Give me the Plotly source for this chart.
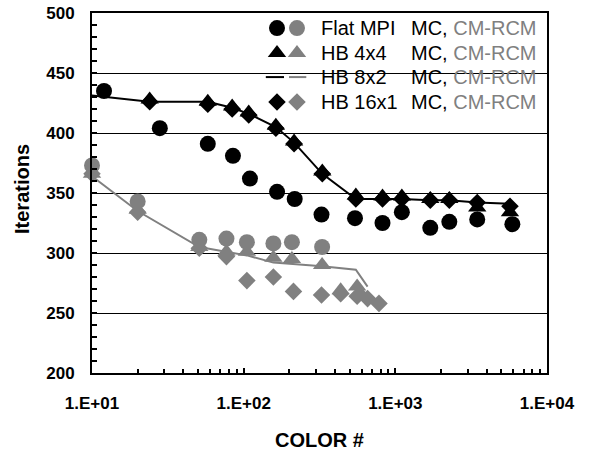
import plotly.graph_objects as go

# ---------------- data ----------------
flat_mc_x = [12, 28, 58, 85, 110, 166, 217, 326, 542, 823, 1104, 1700, 2270, 3467, 5910]
flat_mc_y = [435, 404, 391, 381, 362, 351, 345, 332, 329, 325, 334, 321, 326, 328, 324]

flat_cm_x = [10, 20, 51, 77, 105, 157, 208, 329]
flat_cm_y = [373, 343, 311, 312, 309, 308, 309, 305]

hb44_mc_x = [24, 58, 84, 108, 163, 215, 330, 549, 823, 1104, 1700, 2270, 3467, 5700]
hb44_mc_y = [428, 426, 422, 417, 406, 393, 368, 348, 347, 347, 345, 345, 338, 334]

hb44_cm_x = [10, 20, 51, 77, 105, 157, 208, 329, 436, 560, 600]
hb44_cm_y = [366, 336, 305, 301, 301, 296, 295, 290, 269, 272, 265]

hb82_mc_x = [8.7, 24, 58, 84, 108, 163, 215, 330, 549, 823, 1104, 1700, 2270, 3467, 5700]
hb82_mc_y = [432, 426, 426, 421, 416, 405, 392, 366, 345, 345, 345, 344, 344, 342, 341]

hb82_cm_x = [10, 20, 51, 77, 105, 157, 208, 329, 549, 656]
hb82_cm_y = [364, 335, 305, 301, 298, 292, 291, 289, 286, 272]

hb161_mc_x = [24, 58, 84, 108, 163, 215, 330, 549, 823, 1104, 1700, 2270, 3467, 5700]
hb161_mc_y = [426, 424, 420, 415, 404, 391, 366, 345, 345, 345, 344, 344, 342, 339]

hb161_cm_x = [10, 20, 51, 77, 105, 157, 213, 326, 436, 560, 656, 780]
hb161_cm_y = [366, 334, 304, 297, 277, 280, 268, 265, 266, 264, 262, 258]

legend_names = ["Flat MPI", "HB 4x4", "HB 8x2", "HB 16x1"]
x_tick_vals = [10, 100, 1000, 10000]
x_tick_text = ["1.E+01", "1.E+02", "1.E+03", "1.E+04"]
x_title = "COLOR #"
y_title = "Iterations"

# ---------------- style ----------------
BLACK = "#000000"
GRAY = "#808080"
FONT = "Liberation Sans, Arial, sans-serif"
CIRCLE, TRI, DIA = 16, 16, 13.5

fig = go.Figure()


def markers(x, y, symbol, size, color, name):
    fig.add_trace(go.Scatter(x=x, y=y, mode="markers", name=name, showlegend=False,
                             marker=dict(symbol=symbol, size=size, color=color,
                                         line=dict(width=0)), cliponaxis=False))


def line(x, y, color, name):
    fig.add_trace(go.Scatter(x=x, y=y, mode="lines", name=name, showlegend=False,
                             line=dict(color=color, width=2)))


# black (MC) series
markers(flat_mc_x, flat_mc_y, "circle", CIRCLE, BLACK, "Flat MPI MC")
markers(hb161_mc_x, hb161_mc_y, "diamond", DIA, BLACK, "HB 16x1 MC")
markers(hb44_mc_x, hb44_mc_y, "triangle-up", TRI, BLACK, "HB 4x4 MC")
line(hb82_mc_x, hb82_mc_y, BLACK, "HB 8x2 MC")
# gray (CM-RCM) series
markers(hb161_cm_x, hb161_cm_y, "diamond", DIA, GRAY, "HB 16x1 CM-RCM")
markers(hb44_cm_x, hb44_cm_y, "triangle-up", TRI, GRAY, "HB 4x4 CM-RCM")
line(hb82_cm_x, hb82_cm_y, GRAY, "HB 8x2 CM-RCM")
markers(flat_cm_x, flat_cm_y, "circle", CIRCLE, GRAY, "Flat MPI CM-RCM")

# ---------------- custom legend (overlay axes in 0..1 units) ----------------
row_y = [0.958, 0.889, 0.822, 0.753]
sym_x_black, sym_x_gray = 0.4066, 0.4505
symbols = ["circle", "triangle-up", None, "diamond"]
sizes = [CIRCLE, TRI, 0, DIA]
for i, (sym, sz) in enumerate(zip(symbols, sizes)):
    if sym is None:
        fig.add_trace(go.Scatter(x=[0.382, 0.422], y=[row_y[i]] * 2, mode="lines",
                                 xaxis="x2", yaxis="y2", showlegend=False,
                                 line=dict(color=BLACK, width=2), cliponaxis=False))
        fig.add_trace(go.Scatter(x=[0.433, 0.471], y=[row_y[i]] * 2, mode="lines",
                                 xaxis="x2", yaxis="y2", showlegend=False,
                                 line=dict(color=GRAY, width=2), cliponaxis=False))
    else:
        fig.add_trace(go.Scatter(x=[sym_x_black, sym_x_gray], y=[row_y[i]] * 2, mode="markers",
                                 xaxis="x2", yaxis="y2", showlegend=False, cliponaxis=False,
                                 marker=dict(symbol=sym, size=sz, color=[BLACK, GRAY],
                                             line=dict(width=0))))

annotations = []
for i, nm in enumerate(legend_names):
    annotations.append(dict(xref="paper", yref="paper", x=0.499, y=row_y[i], text=nm,
                            showarrow=False, xanchor="left", yanchor="middle",
                            font=dict(family=FONT, size=20, color=BLACK)))
    annotations.append(dict(xref="paper", yref="paper", x=0.697, y=row_y[i],
                            text="MC, <span style='color:%s'>CM-RCM</span>" % GRAY,
                            showarrow=False, xanchor="left", yanchor="middle",
                            font=dict(family=FONT, size=20, color=BLACK)))

# axis titles
annotations.append(dict(xref="paper", yref="paper", x=0.5, y=-0.186, text=x_title,
                        showarrow=False, xanchor="center", yanchor="middle",
                        font=dict(family=FONT, size=20, color=BLACK, weight="bold")))
annotations.append(dict(xref="paper", yref="paper", x=-0.154, y=0.511, text=y_title,
                        showarrow=False, xanchor="center", yanchor="middle", textangle=-90,
                        font=dict(family=FONT, size=20, color=BLACK, weight="bold")))

minor_x = [m * 10 ** k for k in range(1, 4) for m in range(2, 10)]

fig.update_layout(
    width=593, height=450,
    margin=dict(l=92, r=46, t=13, b=77, autoexpand=False),
    paper_bgcolor="white", plot_bgcolor="white",
    font=dict(family=FONT, color=BLACK),
    annotations=annotations,
    xaxis=dict(
        type="log", range=[1, 4], automargin=False,
        tickvals=x_tick_vals, ticktext=x_tick_text,
        ticks="inside", ticklen=5, tickwidth=1.5, tickcolor=BLACK,
        minor=dict(tickvals=minor_x, ticks="inside", ticklen=4, tickwidth=1.5,
                   tickcolor=BLACK, showgrid=False),
        showgrid=False, zeroline=False,
        showline=True, linecolor=BLACK, linewidth=2, mirror=True,
        tickfont=dict(family=FONT, size=17, color=BLACK, weight="bold"),
        ticklabelstandoff=14,
    ),
    yaxis=dict(
        range=[200, 500], dtick=50, automargin=False,
        ticks="inside", ticklen=5, tickwidth=1.5, tickcolor=BLACK,
        minor=dict(dtick=10, ticks="inside", ticklen=5, tickwidth=1.5,
                   tickcolor=BLACK, showgrid=False),
        showgrid=True, gridcolor=BLACK, gridwidth=1, zeroline=False,
        showline=True, linecolor=BLACK, linewidth=2, mirror=True,
        tickfont=dict(family=FONT, size=17, color=BLACK, weight="bold"),
        ticklabelstandoff=12,
    ),
    xaxis2=dict(overlaying="x", range=[0, 1], visible=False),
    yaxis2=dict(overlaying="y", range=[0, 1], visible=False),
)

fig.write_html("out.html")
